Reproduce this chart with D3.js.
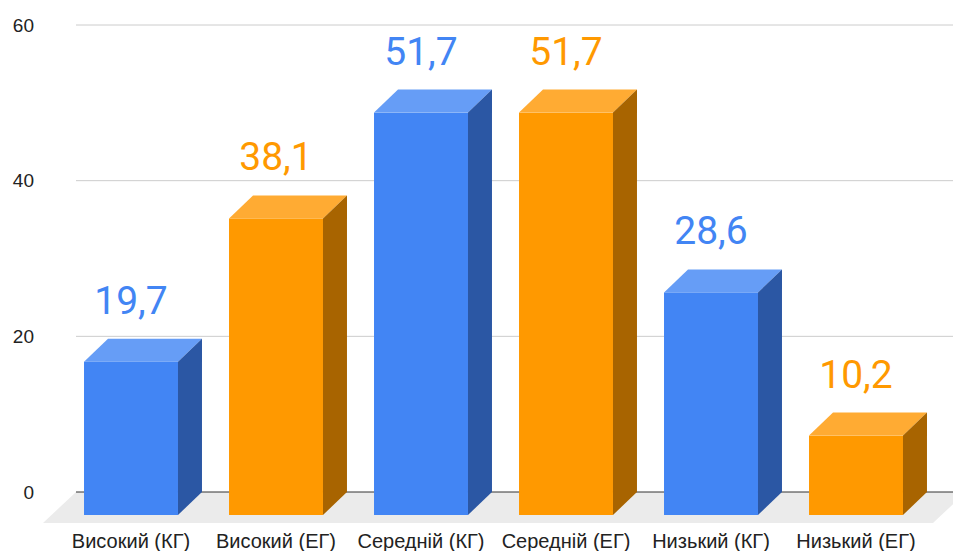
<!DOCTYPE html>
<html lang="uk">
<head>
  <meta charset="utf-8">
  <title>3D column chart</title>
  <style>
    html, body { margin: 0; padding: 0; background: #fff; }
    svg { display: block; }
  </style>
</head>
<body>
  <div id="chart"></div>

<script src="https://cdn.jsdelivr.net/npm/d3@7"></script>
<script>

  ////////////////////////////////////////////////// DATA

  var categories = ["Високий (КГ)", "Високий (ЕГ)", "Середній (КГ)", "Середній (ЕГ)", "Низький (КГ)", "Низький (ЕГ)"];
  var values     = [19.7, 38.1, 51.7, 51.7, 28.6, 10.2];
  var groups     = ["КГ", "ЕГ", "КГ", "ЕГ", "КГ", "ЕГ"];
  var yTicks     = [0, 20, 40, 60];

  ////////////////////////////////////////////////// SETUP

  var width = 953, height = 551;

  // depth offsets of the 3D effect
  var depth = {dx: 24, dy: 23};
  var floor = {dx: 33, dy: 31};

  // face colours per group
  var colors = {
    "КГ": {front: "#4285f4", top: "#669df6", side: "#2b57a4"},
    "ЕГ": {front: "#ff9900", top: "#ffab33", side: "#a86400"}
  };

  var svg = d3.select("#chart").append("svg")
    .attr("width", width)
    .attr("height", height);

  // y scale lives on the back wall (gridlines)
  var y = d3.scaleLinear().domain([0, 60]).range([492, 25]);

  // x scale for the front face of each bar
  var x = d3.scaleBand()
    .domain(categories)
    .range([58.5, 928.5])
    .paddingInner(0.352)
    .paddingOuter(0.176);

  var wallLeft = 76, wallRight = 953;
  var floorRight = 933; // front right corner of the floor

  function pts(arr) {
    return arr.map(function(p) { return p.join(","); }).join(" ");
  }

  // floor
  svg.append("polygon")
    .attr("points", pts([
      [wallLeft, y(0)], [floorRight + floor.dx, y(0)],
      [floorRight, y(0) + floor.dy], [wallLeft - floor.dx, y(0) + floor.dy]
    ]))
    .attr("fill", "#ebebeb");

  // gridlines
  svg.append("g")
    .selectAll("line")
    .data(yTicks.filter(function(d) { return d > 0; }))
    .enter().append("line")
    .attr("x1", wallLeft).attr("x2", wallRight)
    .attr("y1", function(d) { return y(d); })
    .attr("y2", function(d) { return y(d); })
    .attr("stroke", "#cccccc")
    .attr("stroke-width", 1);

  // baseline
  svg.append("line")
    .attr("x1", wallLeft).attr("x2", wallRight)
    .attr("y1", y(0)).attr("y2", y(0))
    .attr("stroke", "#333333")
    .attr("stroke-width", 1);

  // y axis labels
  var yAxis = d3.axisLeft(y).tickValues(yTicks).tickSize(0).tickPadding(0);
  var gy = svg.append("g")
    .attr("transform", "translate(34,0)")
    .call(yAxis);
  gy.select(".domain").remove();
  gy.selectAll("text")
    .attr("font-family", "'Liberation Sans', Arial, sans-serif")
    .attr("font-size", 19)
    .attr("fill", "#222");

  // bars
  var bars = svg.append("g")
    .selectAll("g")
    .data(values)
    .enter().append("g");

  bars.each(function(v, i) {
    var g = d3.select(this);
    var c = colors[groups[i]];
    var x0 = x(categories[i]);
    var x1 = x0 + x.bandwidth();
    var yTop = y(v) + depth.dy;
    var yBot = y(0) + depth.dy;

    // front face
    g.append("rect")
      .attr("x", x0).attr("y", yTop)
      .attr("width", x.bandwidth())
      .attr("height", yBot - yTop)
      .attr("fill", c.front);

    // top face
    g.append("polygon")
      .attr("points", pts([[x0, yTop], [x0 + depth.dx, yTop - depth.dy], [x1 + depth.dx, yTop - depth.dy], [x1, yTop]]))
      .attr("fill", c.top);

    // side face
    g.append("polygon")
      .attr("points", pts([[x1, yTop], [x1 + depth.dx, yTop - depth.dy], [x1 + depth.dx, yBot - depth.dy], [x1, yBot]]))
      .attr("fill", c.side);

    // value label
    g.append("text")
      .attr("x", x0 + x.bandwidth() / 2)
      .attr("y", yTop - 48)
      .attr("text-anchor", "middle")
      .attr("font-family", "Roboto, sans-serif")
      .attr("font-size", 39)
      .attr("fill", c.front)
      .text(String(v).replace(".", ","));
  });

  // x axis labels
  var xAxis = d3.axisBottom(x).tickSize(0).tickPadding(0);
  var gx = svg.append("g")
    .attr("transform", "translate(0,534)")
    .call(xAxis);
  gx.select(".domain").remove();
  gx.selectAll("text")
    .attr("font-family", "'Liberation Sans', Arial, sans-serif")
    .attr("font-size", 20)
    .attr("fill", "#222");

</script>
</body>
</html>
